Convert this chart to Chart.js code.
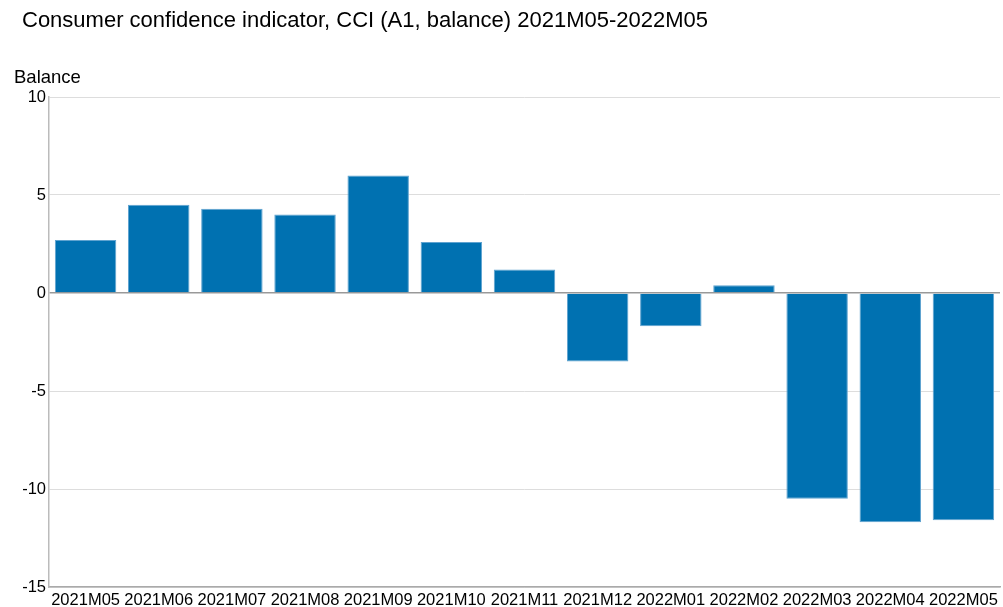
<!DOCTYPE html>
<html>
<head>
<meta charset="utf-8">
<script src="https://cdn.jsdelivr.net/npm/chart.js@4"></script>
<style>
html,body{margin:0;padding:0;background:#fff;}
#wrap{width:1003px;height:607px;position:relative;}
</style>
</head>
<body>
<div id="wrap"><canvas id="c" width="1003" height="607"></canvas></div>
<script>
const categories = ["2021M05","2021M06","2021M07","2021M08","2021M09","2021M10","2021M11","2021M12","2022M01","2022M02","2022M03","2022M04","2022M05"];
const cciValues = [2.7, 4.5, 4.3, 4.0, 6.0, 2.6, 1.2, -3.5, -1.7, 0.4, -10.5, -11.7, -11.6];
const yTicks = [-15, -10, -5, 0, 5, 10];
const titleText = "Consumer confidence indicator, CCI (A1, balance) 2021M05-2022M05";
const yUnit = "Balance";

const FONT = "'Liberation Sans', Arial, sans-serif";

const textPlugin = {
  id: 'texts',
  afterDraw(chart) {
    const ctx = chart.ctx;
    ctx.save();
    ctx.fillStyle = '#000';
    ctx.textBaseline = 'alphabetic';
    ctx.textAlign = 'left';
    ctx.font = "22px " + FONT;
    ctx.fillText(titleText, 22, 27);
    ctx.font = "18.5px " + FONT;
    ctx.fillText(yUnit, 14, 83);
    ctx.restore();
  }
};

new Chart(document.getElementById('c'), {
  type: 'bar',
  data: {
    labels: categories,
    datasets: [{
      data: cciValues,
      backgroundColor: '#0071b1',
      borderColor: '#5fa3d0',
      borderWidth: 1,
      categoryPercentage: 0.84,
      barPercentage: 1.0
    }]
  },
  options: {
    responsive: false,
    animation: false,
    layout: { padding: { top: 97, right: 3, left: 0, bottom: 0 } },
    plugins: { legend: { display: false }, tooltip: { enabled: false }, title: { display: false } },
    scales: {
      x: {
        grid: { display: false, drawTicks: false },
        border: { color: '#aaa', width: 1.5 },
        ticks: { color: '#000', font: { family: FONT, size: 16.5 }, maxRotation: 0, autoSkip: false, padding: 4 },
        afterFit(s) { s.height = 20; }
      },
      y: {
        min: -15, max: 10,
        afterBuildTicks(s) { s.ticks = yTicks.map(v => ({ value: v })); },
        grid: {
          drawTicks: false,
          color: ctx => (ctx.tick && ctx.tick.value === 0) ? '#999' : '#ddd',
          lineWidth: ctx => (ctx.tick && ctx.tick.value === 0) ? 1.5 : 1
        },
        border: { color: '#bbb', width: 1.5 },
        ticks: { color: '#000', font: { family: FONT, size: 16.5 }, padding: 3 },
        afterFit(s) { s.width = 49; }
      }
    }
  },
  plugins: [textPlugin]
});
</script>
</body>
</html>
